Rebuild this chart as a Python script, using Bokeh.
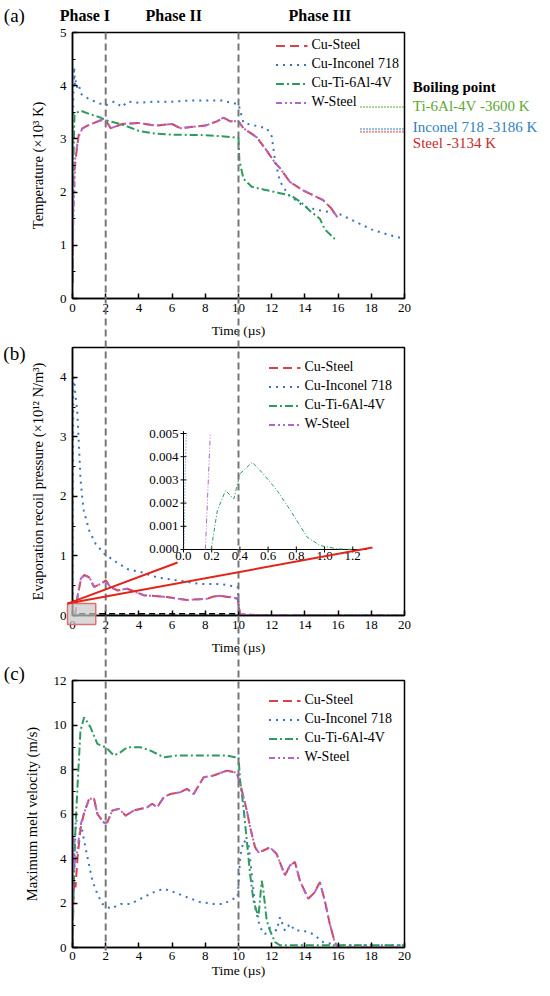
from bokeh.plotting import figure
from bokeh.models import Range1d, FixedTicker
from bokeh.layouts import column
from bokeh.embed import file_html
from bokeh.resources import INLINE
from bokeh.core.properties import value
import math

FONT = "Liberation Serif, serif"

# ---------------- series styling ----------------
series_names = ["Cu-Steel", "Cu-Inconel 718", "Cu-Ti-6Al-4V", "W-Steel"]
series_colors = ["#d8434b", "#3a73bd", "#2f9a5e", "#b066c8"]
series_dashes = ["9 5", "2 5", "8 3 2 3", "6 3 2 3 2 3"]

x_ticks = [0, 2, 4, 6, 8, 10, 12, 14, 16, 18, 20]
phase_bounds = [2, 10]
phase_names = ["Phase I", "Phase II", "Phase III"]
phase_label_x = [0.75, 6.1, 14.9]

# ---------------- (a) temperature, x10^3 K ----------------
a_steel_t = [0, 0.05, 0.18, 0.38, 0.6, 0.9, 1.3, 1.7, 2.0, 2.3, 3.0, 4.0, 5.0, 6.0, 6.5, 7.0, 8.0, 8.7, 9.1, 9.5,
             10.0, 10.3, 11.1, 11.7, 12.2, 12.5, 13.1, 13.9, 14.5, 15.1, 15.6, 15.95]
a_steel_T = [0.3, 2.2, 2.6, 3.1, 3.2, 3.25, 3.3, 3.35, 3.35, 3.2, 3.28, 3.3, 3.25, 3.28, 3.2, 3.22, 3.25, 3.33, 3.4, 3.33,
             3.33, 3.2, 3.03, 2.78, 2.55, 2.45, 2.19, 2.03, 1.94, 1.85, 1.69, 1.53]
a_wsteel_t = [0, 0.05, 0.18, 0.38, 0.6, 0.9, 1.3, 1.7, 2.0, 2.3, 3.0, 4.0, 5.0, 6.0, 6.5, 7.0, 8.0, 8.7, 9.1, 9.5,
              10.0, 10.3, 11.1, 11.7, 12.2, 12.5, 13.1, 13.9, 14.5, 15.1, 15.6, 15.95]
a_wsteel_T = [0.3, 1.5, 2.7, 3.05, 3.2, 3.25, 3.3, 3.35, 3.35, 3.2, 3.28, 3.3, 3.25, 3.28, 3.2, 3.22, 3.25, 3.33, 3.4, 3.33,
              3.33, 3.2, 3.03, 2.78, 2.55, 2.45, 2.19, 2.03, 1.94, 1.85, 1.69, 1.53]
a_inconel_t = [0, 0.02, 0.05, 0.1, 0.15, 0.2, 0.3, 0.4, 0.5, 0.7, 1.0, 1.5, 2.0, 2.5, 3.0, 3.3, 4.0, 5.0, 6.0, 7.0,
               8.0, 9.0, 10.0, 10.3, 11.0, 11.7, 12.0, 12.2, 12.5, 13.0, 14.0, 15.0, 16.0, 17.0, 18.0, 19.0, 20.0]
a_inconel_T = [0.3, 2.0, 3.8, 4.35, 4.0, 4.1, 3.95, 4.0, 3.85, 3.8, 3.75, 3.68, 3.63, 3.7, 3.6, 3.7, 3.68, 3.7, 3.7, 3.72,
               3.72, 3.72, 3.65, 3.3, 3.25, 3.2, 3.05, 2.6, 2.2, 1.95, 1.72, 1.65, 1.6, 1.45, 1.3, 1.2, 1.12]
a_ti_t = [0, 0.05, 0.12, 0.3, 0.5, 1.0, 1.7, 2.0, 3.0, 4.0, 5.0, 6.0, 8.0, 9.0, 10.0, 10.05, 10.3, 10.8, 11.5, 12.5,
          13.2, 13.8, 14.3, 14.9, 15.2, 15.8]
a_ti_T = [0.3, 2.5, 3.45, 3.5, 3.53, 3.47, 3.4, 3.35, 3.27, 3.15, 3.1, 3.08, 3.07, 3.05, 3.02, 2.6, 2.25, 2.1, 2.05, 1.98,
          1.93, 1.8, 1.65, 1.5, 1.3, 1.12]

boiling_T = [3.600, 3.186, 3.134]
boiling_labels = ["Ti-6Al-4V -3600 K", "Inconel 718 -3186 K", "Steel -3134 K"]
boiling_colors = ["#5ea832", "#2f7fc1", "#c62a2a"]
boiling_label_y = [3.61, 3.23, 2.93]
boiling_x = [17.35, 20.0]

# ---------------- (b) recoil pressure, x10^12 ----------------
b_inconel_t = [0, 0.02, 0.05, 0.1, 0.18, 0.28, 0.38, 0.48, 0.58, 0.68, 1.0, 1.4, 1.9, 2.5, 3.3, 4.1, 5.1, 6.3, 7.7, 8.9,
               9.7, 9.95, 10.05, 10.5, 12, 14, 16, 18, 20]
b_inconel_P = [0, 2.0, 4.0, 3.95, 3.7, 3.45, 2.9, 2.3, 2.0, 1.76, 1.43, 1.2, 1.04, 0.92, 0.78, 0.73, 0.64, 0.59, 0.53, 0.53,
               0.49, 0.48, 0.02, 0.0, 0, 0, 0, 0, 0]
b_steel_t = [0, 0.15, 0.3, 0.5, 0.7, 1.0, 1.3, 1.7, 2.0, 2.3, 2.7, 3.3, 4.3, 5.7, 6.9, 8.1, 8.5, 8.9, 9.7, 9.95,
             10.1, 11, 12, 14, 16, 18, 20]
b_steel_P = [0, 0, 0.3, 0.6, 0.68, 0.64, 0.48, 0.53, 0.59, 0.48, 0.42, 0.45, 0.34, 0.31, 0.26, 0.28, 0.32, 0.33, 0.30, 0.28,
             0.02, 0.01, 0.01, 0, 0, 0, 0]
b_wsteel_t = [0, 0.15, 0.3, 0.5, 0.7, 1.0, 1.3, 1.7, 2.0, 2.3, 2.7, 3.3, 4.3, 5.7, 6.9, 8.1, 8.5, 8.9, 9.7, 9.95,
              10.1, 11, 12, 14, 16, 18, 20]
b_wsteel_P = [0, 0, 0.32, 0.62, 0.68, 0.65, 0.48, 0.53, 0.58, 0.47, 0.42, 0.45, 0.34, 0.31, 0.26, 0.28, 0.32, 0.33, 0.30, 0.28,
              0.02, 0.01, 0.01, 0, 0, 0, 0]
b_ti_t = [0, 0.196, 0.24, 0.298, 0.357, 0.40, 0.487, 0.664, 0.877, 1.09, 2, 10, 20]
b_ti_P = [0, 0, 0.00168, 0.00254, 0.00218, 0.00326, 0.00376, 0.00254, 0.00053, 0.00003, 0, 0, 0]
# unlabeled black dashed trace lying on the baseline
b_black_t = [0.4, 10.0]
b_black_P = [0.03, 0.03]

# inset (zoom of the first 1.3 us)
inset_ti_t = [0.196, 0.24, 0.298, 0.357, 0.40, 0.487, 0.56, 0.664, 0.759, 0.877, 0.97, 1.09, 1.2]
inset_ti_P = [0.0, 0.00168, 0.00254, 0.00218, 0.00326, 0.00376, 0.0033, 0.00254, 0.00168, 0.00053, 0.00017, 0.00003, 0.0]
inset_w_t = [0.155, 0.19]
inset_w_P = [0.0, 0.005]
inset_in_t = [0.003, 0.008, 0.012, 0.02, 0.03]
inset_in_P = [0.0, 0.0015, 0.0035, 0.0049, 0.005]
inset_x_ticks = [0.0, 0.2, 0.4, 0.6, 0.8, 1.0, 1.2]
inset_x_labels = ["0.0", "0.2", "0.4", "0.6", "0.8", "1.0", "1.2"]
inset_y_ticks = [0.000, 0.001, 0.002, 0.003, 0.004, 0.005]
inset_y_labels = ["0.000", "0.001", "0.002", "0.003", "0.004", "0.005"]

# ---------------- (c) max melt velocity, m/s ----------------
c_ti_t = [0, 0.05, 0.18, 0.32, 0.48, 0.7, 1.08, 1.5, 2.0, 2.5, 2.9, 3.3, 4.1, 4.7, 5.5, 6.3, 7.7, 9.3, 9.8, 10.0,
          10.1, 10.3, 10.5, 10.7, 10.9, 11.2, 11.4, 11.5, 11.7, 11.9, 12.2, 12.5, 14, 16, 18, 20]
c_ti_V = [0, 2.0, 5.4, 7.5, 9.75, 10.35, 9.9, 9.15, 9.0, 8.63, 8.78, 9.0, 9.0, 8.85, 8.55, 8.63, 8.63, 8.63, 8.55, 8.55,
          7.5, 6.3, 4.8, 3.3, 2.1, 1.36, 3.0, 2.56, 1.2, 0.76, 0.24, 0.1, 0.1, 0.1, 0.1, 0.1]
c_w_t = [0, 0.05, 0.1, 0.18, 0.3, 0.48, 0.68, 1.0, 1.3, 1.5, 1.9, 2.1, 2.4, 2.8, 3.2, 3.7, 4.5, 4.8, 5.1, 5.5,
         5.9, 6.5, 6.9, 7.3, 7.9, 8.5, 9.3, 9.9, 10.2, 10.5, 10.7, 11.0, 11.2, 11.5, 11.9, 12.3, 12.8, 13.1, 13.4, 13.7,
         14.2, 14.6, 14.9, 15.2, 15.5, 15.8, 16.0, 18, 20]
c_w_V = [0, 5.0, 3.5, 4.0, 4.4, 5.5, 6.0, 6.68, 6.68, 6.0, 5.6, 5.63, 6.16, 6.23, 5.93, 6.16, 6.3, 6.46, 6.3, 6.76,
         6.9, 6.98, 7.13, 6.9, 7.65, 7.73, 7.95, 7.85, 7.06, 6.16, 5.4, 4.5, 4.28, 4.36, 4.5, 4.2, 3.24, 3.69, 3.84, 3.0,
         2.19, 2.49, 2.94, 2.1, 1.06, 0.24, 0.0, 0.0, 0.0]
c_steel_t = [0, 0.05, 0.1, 0.18, 0.3, 0.48, 0.68, 1.0, 1.3, 1.5, 1.9, 2.1, 2.4, 2.8, 3.2, 3.7, 4.5, 4.8, 5.1, 5.5,
             5.9, 6.5, 6.9, 7.3, 7.9, 8.5, 9.3, 9.9, 10.2, 10.5, 10.7, 11.0, 11.2, 11.5, 11.9, 12.3, 12.8, 13.1, 13.4, 13.7,
             14.2, 14.6, 14.9, 15.2, 15.5, 15.8, 16.0, 18, 20]
c_steel_V = [0, 2.0, 3.0, 2.7, 4.0, 5.3, 6.0, 6.68, 6.68, 6.0, 5.6, 5.63, 6.16, 6.23, 5.93, 6.16, 6.3, 6.46, 6.3, 6.76,
             6.9, 6.98, 7.13, 6.9, 7.65, 7.73, 7.95, 7.85, 7.06, 6.16, 5.4, 4.5, 4.28, 4.36, 4.5, 4.2, 3.24, 3.69, 3.84, 3.0,
             2.19, 2.49, 2.94, 2.1, 1.06, 0.24, 0.0, 0.0, 0.0]
c_inconel_t = [0, 0.05, 0.12, 0.24, 0.48, 0.7, 0.9, 1.2, 1.5, 1.8, 2.3, 2.9, 3.5, 4.1, 4.9, 5.5, 6.1, 6.9, 7.7, 8.5,
               9.1, 9.7, 9.95, 10.1, 10.3, 10.6, 10.8, 11.0, 11.3, 11.6, 11.9, 12.3, 12.5, 12.8, 13.1, 13.4, 13.9, 14.5, 15.1, 16.0,
               18, 20]
c_inconel_V = [0, 3.0, 4.8, 5.7, 5.7, 4.8, 4.06, 3.0, 2.4, 1.96, 1.74, 1.96, 1.96, 2.19, 2.49, 2.64, 2.49, 2.26, 2.04, 1.96,
               1.96, 2.19, 2.26, 4.06, 4.8, 4.66, 3.3, 1.8, 0.9, 0.6, 0.9, 0.76, 1.36, 0.76, 1.06, 0.76, 0.76, 0.6, 0.24, 0.1,
               0.1, 0.1]

# ---------------- layout constants (pixels) ----------------
W = 550
BL = 72
FRAME_W = 332
BR = W - BL - FRAME_W
PANELS = {  # name: (fig height, border top, border bottom, y max)
    "a": (343, 32, 45, 5.0),
    "b": (317, 4, 45, 4.5),
    "c": (323, 20, 36, 12.0),
}
ORDER = ["a", "b", "c"]
TOTAL_H = sum(PANELS[k][0] for k in ORDER)


def make_fig(key, y_ticks, y_minor, y_label, xlab_standoff, xtick_standoff):
    h, bt, bb, ymax = PANELS[key]
    p = figure(width=W, height=h, x_range=Range1d(0, 20), y_range=Range1d(0, ymax),
               output_backend="svg", toolbar_location=None,
               min_border_left=BL, min_border_right=BR, min_border_top=bt, min_border_bottom=bb)
    p.xgrid.visible = False
    p.ygrid.visible = False
    p.outline_line_color = "black"
    p.outline_line_width = 1.5
    p.outline_line_alpha = 1.0
    p.background_fill_color = "white"
    p.border_fill_color = "white"
    p.xaxis.ticker = FixedTicker(ticks=x_ticks)
    p.yaxis.ticker = FixedTicker(ticks=y_ticks, minor_ticks=y_minor)
    p.xaxis.axis_label = "Time (\u00b5s)"
    p.yaxis.axis_label = y_label
    for ax in (p.xaxis[0], p.yaxis[0]):
        ax.axis_line_color = "black"
        ax.axis_line_width = 1.5
        ax.major_tick_in = 5
        ax.major_tick_out = 0
        ax.major_tick_line_width = 1.5
        ax.minor_tick_in = 3
        ax.minor_tick_out = 0
        ax.minor_tick_line_width = 1.2
        ax.major_label_text_font = FONT
        ax.major_label_text_font_size = "13px"
        ax.major_label_text_color = "black"
        ax.axis_label_text_font = FONT
        ax.axis_label_text_font_style = "normal"
        ax.axis_label_text_color = "black"
    p.xaxis.axis_label_text_font_size = "13.5px"
    p.yaxis.axis_label_text_font_size = "14.5px"
    p.xaxis.minor_tick_line_color = None
    p.xaxis.major_label_standoff = xtick_standoff
    p.xaxis.axis_label_standoff = xlab_standoff
    p.yaxis.major_label_standoff = 6
    p.yaxis.axis_label_standoff = 11
    return p


def add_series(p, ts, ys):
    for name, t, y, c, d in zip(series_names, ts, ys, series_colors, series_dashes):
        p.line(t, y, line_color=c, line_width=2, line_dash=d, legend_label=name)


def style_legend(p, margin):
    lg = p.legend[0]
    lg.location = "top_right"
    lg.border_line_color = None
    lg.background_fill_alpha = 0
    lg.label_text_font = FONT
    lg.label_text_font_size = "14px"
    lg.label_text_color = "black"
    lg.glyph_width = 32
    lg.glyph_height = 15
    lg.label_height = 15
    lg.spacing = 3
    lg.padding = 5
    lg.margin = margin
    lg.label_standoff = 4


# ================= (a) =================
pa = make_fig("a", [0, 1, 2, 3, 4, 5], [0.5, 1.5, 2.5, 3.5, 4.5], "Temperature (\u00d710\u00b3 K)", 8, 5)
add_series(pa, [a_steel_t, a_inconel_t, a_ti_t, a_wsteel_t], [a_steel_T, a_inconel_T, a_ti_T, a_wsteel_T])
style_legend(pa, 5)
for bT, bc in zip(boiling_T, boiling_colors):
    pa.line(boiling_x, [bT, bT], line_color=bc, line_width=2, line_dash="1 2")

# ================= (b) =================
pb = make_fig("b", [0, 1, 2, 3, 4], [0.5, 1.5, 2.5, 3.5],
              "Evaporation recoil pressure (\u00d710\u00b9\u00b2 N/m\u00b3)", 8, 5)
add_series(pb, [b_steel_t, b_inconel_t, b_ti_t, b_wsteel_t], [b_steel_P, b_inconel_P, b_ti_P, b_wsteel_P])
pb.line(b_black_t, b_black_P, line_color="black", line_width=1.5, line_dash="6 4")
style_legend(pb, 12)
# inset coordinate system inside panel (b)
pb.extra_x_ranges = {"ix": Range1d(-0.787, 1.567)}
pb.extra_y_ranges = {"iy": Range1d(-0.002845, 0.008707)}
pb.segment(x0=[0, 0], y0=[0, 0], x1=[1.3, 0], y1=[0, 0.0051], line_color="black", line_width=1,
           x_range_name="ix", y_range_name="iy")
pb.scatter(x=[0] * len(inset_y_ticks), y=inset_y_ticks, marker="dash", size=6, line_color="black",
           x_range_name="ix", y_range_name="iy")
pb.scatter(x=inset_x_ticks, y=[0] * len(inset_x_ticks), marker="dash", size=6, angle=math.pi / 2,
           line_color="black", x_range_name="ix", y_range_name="iy")
pb.text(x=[0] * len(inset_y_ticks), y=inset_y_ticks, text=inset_y_labels, text_font=value(FONT),
        text_font_size="13px", text_align="right", text_baseline="middle", x_offset=-5,
        x_range_name="ix", y_range_name="iy")
pb.text(x=inset_x_ticks, y=[0] * len(inset_x_ticks), text=inset_x_labels, text_font=value(FONT),
        text_font_size="13px", text_align="center", text_baseline="top", y_offset=3,
        x_range_name="ix", y_range_name="iy")
pb.line(inset_in_t, inset_in_P, line_color=series_colors[1], line_width=1, line_dash="1 2",
        x_range_name="ix", y_range_name="iy")
pb.line(inset_w_t, inset_w_P, line_color=series_colors[3], line_width=1, line_dash="5 2 1 2 1 2",
        x_range_name="ix", y_range_name="iy")
pb.line(inset_ti_t, inset_ti_P, line_color=series_colors[2], line_width=1, line_dash="4 2 1 2",
        x_range_name="ix", y_range_name="iy")

# ================= (c) =================
pc = make_fig("c", [0, 2, 4, 6, 8, 10, 12], [1, 3, 5, 7, 9, 11], "Maximum melt velocity (m/s)", 0, 4)
add_series(pc, [c_steel_t, c_inconel_t, c_ti_t, c_w_t], [c_steel_V, c_inconel_V, c_ti_V, c_w_V])
style_legend(pc, 12)

# ================= transparent overlay for marks that cross panel borders =================
sx = 20.0 / FRAME_W
ov_x = Range1d(-BL * sx, (W - BL) * sx)


def overlay_range(key):
    top_px = 0
    for k in ORDER:
        if k == key:
            break
        top_px += PANELS[k][0]
    h, bt, bb, ymax = PANELS[key]
    f_top = top_px + bt
    f_bot = top_px + h - bb
    s = ymax / (f_bot - f_top)
    return Range1d(-(TOTAL_H - f_bot) * s, ymax + f_top * s), s, f_bot


ra, sa, fa_bot = overlay_range("a")
rb, sb, fb_bot = overlay_range("b")
rc, sc, fc_bot = overlay_range("c")

ov = figure(width=W, height=TOTAL_H, x_range=ov_x, y_range=ra, output_backend="svg", toolbar_location=None,
            x_axis_type=None, y_axis_type=None, min_border=0, min_border_left=0, min_border_right=0,
            min_border_top=0, min_border_bottom=0, background_fill_color=None, border_fill_color=None,
            outline_line_color=None, styles={"position": "absolute", "top": "0px", "left": "0px"})
ov.extra_y_ranges = {"b": rb, "c": rc}

# phase boundaries: from top of (a) frame down through the bottom of (c)
line_bottom_a = -(fc_bot + 3 - fa_bot) * sa
ov.segment(x0=phase_bounds, y0=[5.0] * len(phase_bounds), x1=phase_bounds, y1=[line_bottom_a] * len(phase_bounds),
           line_color="#777777", line_width=2, line_dash="7 4")

# zoom box and connectors for panel (b)
ov.quad(left=[-0.3], right=[1.4], bottom=[-0.15], top=[0.2], fill_color="#c8c8c8", fill_alpha=0.7,
        line_color="#e07070", line_width=1.5, y_range_name="b")
ov.segment(x0=[-0.3, -0.3], y0=[0.2, 0.2], x1=[6.33, 18.07], y1=[0.89, 1.14], line_color="#e3241b",
           line_width=2, y_range_name="b")

# texts outside the frames
ov.text(x=phase_label_x, y=[5.32] * 3, text=phase_names, text_font=value(FONT), text_font_size="16px",
        text_font_style="bold", text_align="center", text_baseline="middle", text_color="black")
ov.text(x=[-3.5], y=[5.32], text=["(a)"], text_font=value(FONT), text_font_size="19px",
        text_align="center", text_baseline="middle", text_color="black")
ov.text(x=[-3.5], y=[4.4], text=["(b)"], text_font=value(FONT), text_font_size="19px",
        text_align="center", text_baseline="middle", text_color="black", y_range_name="b")
ov.text(x=[-3.5], y=[12.3], text=["(c)"], text_font=value(FONT), text_font_size="19px",
        text_align="center", text_baseline="middle", text_color="black", y_range_name="c")
ov.text(x=[20.5], y=[3.97], text=["Boiling point"], text_font=value(FONT), text_font_size="15px",
        text_font_style="bold", text_align="left", text_baseline="middle", text_color="black")
ov.text(x=[20.5] * 3, y=boiling_label_y, text=boiling_labels, text_font=value(FONT), text_font_size="15px",
        text_align="left", text_baseline="middle", text_color=boiling_colors)

layout = column(pa, pb, pc)
open("out.html", "w").write(file_html([layout, ov], INLINE))
